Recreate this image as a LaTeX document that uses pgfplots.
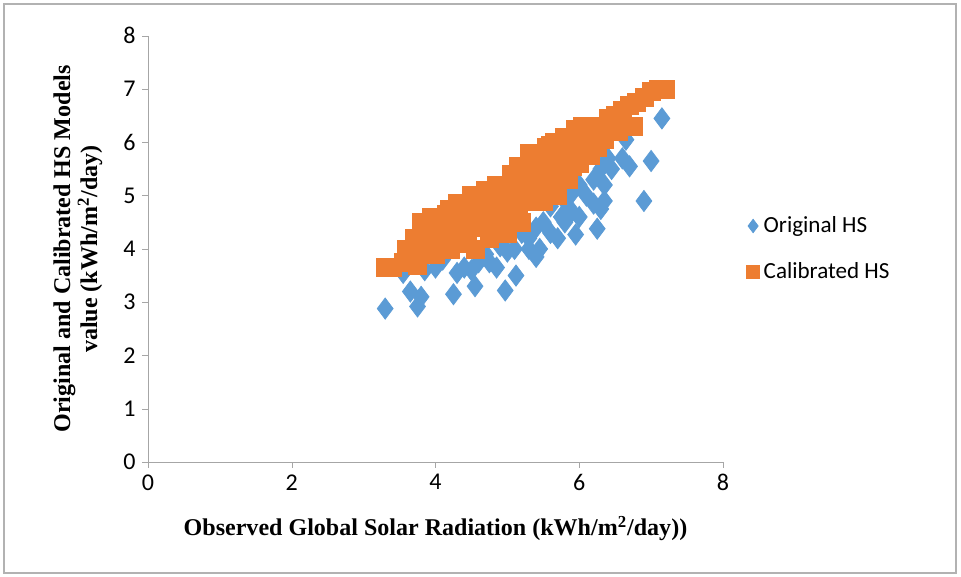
\documentclass[border=0pt]{standalone}
\usepackage{pgfplots}
\pgfplotsset{compat=1.18}
\usepackage{fontspec}
\setmainfont{Carlito}
\newfontfamily\tnr{Liberation Serif}
\definecolor{blu}{HTML}{5B9BD5}
\definecolor{org}{HTML}{ED7D31}
\begin{document}
\begin{tikzpicture}[x=0.52pt,y=0.52pt]
\draw[gray!60,line width=0.6pt] (4,4) rectangle (956,573);
\path[use as bounding box] (0,0) rectangle (961,577);
\begin{axis}[at={(148pt*0.52,115pt*0.52)},anchor=south west,
 width=299pt,height=221.6pt,scale only axis,
 xmin=0,xmax=8,ymin=0,ymax=8,xtick={0,2,...,8},ytick={0,1,...,8},
 axis lines=left, axis line style={gray!70,-},
 tick style={gray!70}, tick align=outside, major tick length=3pt,
 /pgf/number format/assume math mode=true,
 tick label style={font=\fontsize{12.5}{14}\selectfont},
 xlabel={\tnr\bfseries Observed Global Solar Radiation (kWh/m\textsuperscript{2}/day))},
 ylabel={\tnr\bfseries Original and Calibrated HS Models\\\tnr\bfseries value (kWh/m\textsuperscript{2}/day)},
 label style={font=\fontsize{12.5}{14}\selectfont},
 xlabel style={yshift=-6pt}, ylabel style={align=center,yshift=4pt},
 legend style={draw=none,at={(1.03,0.5)},anchor=west,font=\fontsize{12}{14}\selectfont,row sep=10pt},
 legend image post style={mark size=3.5pt},
 legend cell align=left,
 clip=false]
\addplot[only marks,mark=diamond*,mark size=5.5pt,color=blu] coordinates {
(3.3,2.88)(3.75,2.92)(3.8,3.1)(3.65,3.2)(3.55,3.55)(4.25,3.15)(4.55,3.3)(4.97,3.22)(5.12,3.5)(4.3,3.55)(4.0,3.65)(3.85,3.6)(4.4,3.65)(4.6,3.75)(4.85,3.65)(5.0,3.95)(5.4,3.85)(5.45,4.0)(5.3,4.2)(5.6,4.3)(5.7,4.2)(5.95,4.27)(6.25,4.38)(5.8,4.5)(6.0,4.6)(6.3,4.75)(6.35,4.9)(6.2,4.85)(5.9,4.7)(6.1,5.0)(6.9,4.9)(6.2,5.3)(6.35,5.2)(6.6,5.7)(6.7,5.55)(7.0,5.65)(6.3,5.5)(6.65,6.05)(7.15,6.45)(6.4,5.7)(5.5,4.5)(5.2,4.3)(4.9,4.05)(4.7,3.9)(5.6,4.8)(5.8,4.9)(6.0,5.2)(4.1,3.8)(4.5,3.6)(5.3,4.0)(5.75,4.6)(6.45,5.5)(5.1,4.0)(5.4,4.4)(4.75,3.75)(5.9,5.05)
};
\addlegendentry{Original HS}
\addplot[only marks,mark=square*,mark size=4.7pt,color=org] coordinates {
(3.3,3.65)(3.4,3.65)(3.55,3.75)(3.6,4.0)(3.65,3.8)(3.7,4.2)(3.75,3.7)(3.8,4.5)(3.85,4.0)(3.9,4.3)(3.95,4.6)(4.0,3.9)(4.05,4.5)(4.1,4.2)(4.15,4.65)(4.2,4.0)(4.25,4.45)(4.3,4.85)(4.35,4.1)(4.4,4.6)(4.45,4.3)(4.5,5.0)(4.55,4.0)(4.6,4.7)(4.65,4.4)(4.7,5.1)(4.75,4.2)(4.8,4.8)(4.85,5.2)(4.9,4.5)(4.95,5.0)(5.0,4.3)(5.05,5.4)(5.1,4.8)(5.15,5.55)(5.2,4.5)(5.25,5.2)(5.3,5.8)(5.35,4.9)(5.4,5.5)(5.45,5.75)(5.5,5.1)(5.55,5.9)(5.6,5.4)(5.65,6.0)(5.7,5.0)(5.75,5.7)(5.8,6.1)(5.85,5.3)(5.9,5.9)(5.95,6.25)(6.0,5.6)(6.05,6.3)(6.1,5.8)(6.15,6.1)(6.2,6.3)(6.25,5.9)(6.3,6.3)(6.35,6.05)(6.4,6.45)(6.5,6.5)(6.55,6.2)(6.6,6.6)(6.7,6.7)(6.75,6.3)(6.8,6.75)(6.9,6.85)(7.0,6.95)(7.1,7.0)(7.2,7.0)(4.35,4.8)(4.9,5.15)(5.25,5.5)(5.6,5.95)(4.6,4.45)(5.05,4.7)(5.45,5.2)(3.95,4.2)(4.15,4.35)
(4.2,4.75)(4.45,4.85)(4.7,4.85)(4.75,4.6)(5.0,4.85)(5.15,5.1)(5.35,5.3)(5.5,5.5)(5.7,5.6)(5.85,5.75)(6.0,5.95)(6.15,5.75)(5.2,4.9)(5.3,5.05)(5.65,5.3)(4.9,4.75)(4.55,4.6)(4.3,4.4)(4.05,4.05)(5.55,5.3)(5.75,5.35)(5.9,5.55)(6.3,6.1)(5.15,4.65)(5.5,4.9)
};
\addlegendentry{Calibrated HS}
\end{axis}
\end{tikzpicture}
\end{document}
